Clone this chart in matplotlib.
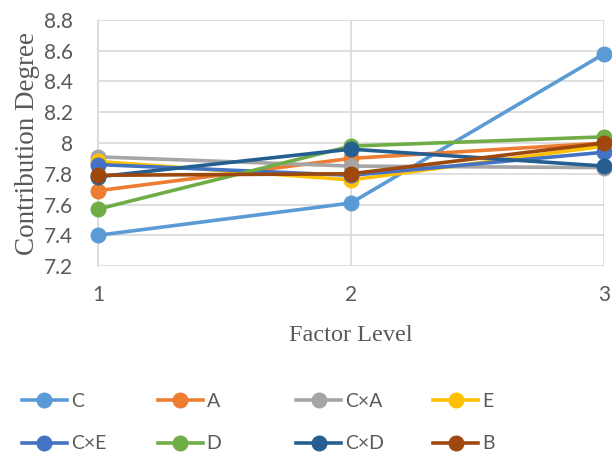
import matplotlib
matplotlib.use("Agg")
import matplotlib.pyplot as plt
from matplotlib.ticker import FuncFormatter

# factor levels and contribution degree of each factor
levels = [1, 2, 3]
names = ["C", "A", "C×A", "E", "C×E", "D", "C×D", "B"]
c_vals = [7.40, 7.61, 8.58]
a_vals = [7.69, 7.90, 8.00]
ca_vals = [7.91, 7.85, 7.84]
e_vals = [7.88, 7.76, 7.98]
ce_vals = [7.86, 7.79, 7.94]
d_vals = [7.57, 7.98, 8.04]
cd_vals = [7.78, 7.96, 7.85]
b_vals = [7.79, 7.80, 8.00]
series = [c_vals, a_vals, ca_vals, e_vals, ce_vals, d_vals, cd_vals, b_vals]
colors = ["#5B9BD5", "#ED7D31", "#A5A5A5", "#FFC000",
          "#4472C4", "#70AD47", "#255E91", "#9E480E"]

grey = "#595959"
grid_c = "#D9D9D9"

fig = plt.figure(figsize=(6.12, 4.54), dpi=100)
ax = fig.add_axes([0.160, 0.414, 0.827, 0.542])

for name, vals, col in zip(names, series, colors):
    ax.plot(levels, vals, color=col, lw=2.6, marker="o", ms=10.5,
            label=name, clip_on=False, zorder=3)

ax.set_xlim(1, 3)
ax.set_ylim(7.2, 8.8)
ax.set_xticks(levels)
ax.set_yticks([7.2 + 0.2 * i for i in range(9)])
ax.yaxis.set_major_formatter(FuncFormatter(lambda v, p: "%g" % round(v, 1)))
ax.grid(True, color=grid_c, lw=1.2)
ax.set_axisbelow(True)
for s in ["top", "right", "bottom"]:
    ax.spines[s].set_visible(False)
ax.spines["left"].set_color(grid_c)
ax.spines["left"].set_linewidth(1.2)
ax.tick_params(length=0, labelsize=15, labelcolor=grey)
for lab in ax.get_xticklabels() + ax.get_yticklabels():
    lab.set_family("Lato")
ax.tick_params(axis="x", pad=14)
ax.tick_params(axis="y", pad=18)

ax.set_xlabel("Factor Level", family="Liberation Serif", fontsize=17.5,
              color=grey, labelpad=14)
ax.set_ylabel("Contribution Degree", family="Liberation Serif", fontsize=19.5,
              color=grey, labelpad=3)

# legend: four columns of two entries
handles, labels = ax.get_legend_handles_labels()
col_x = [0.036, 0.258, 0.484, 0.708]
for j in range(4):
    hs = [handles[j], handles[j + 4]]
    ls = [labels[j], labels[j + 4]]
    fig.legend(hs, ls, loc="upper left", bbox_to_anchor=(col_x[j], 0.134),
               frameon=False, handlelength=2.3, handletextpad=0.2,
               labelspacing=1.3, borderpad=0, borderaxespad=0,
               prop={"family": "Lato", "size": 14}, labelcolor=grey)

fig.savefig("out.png", dpi=100)
